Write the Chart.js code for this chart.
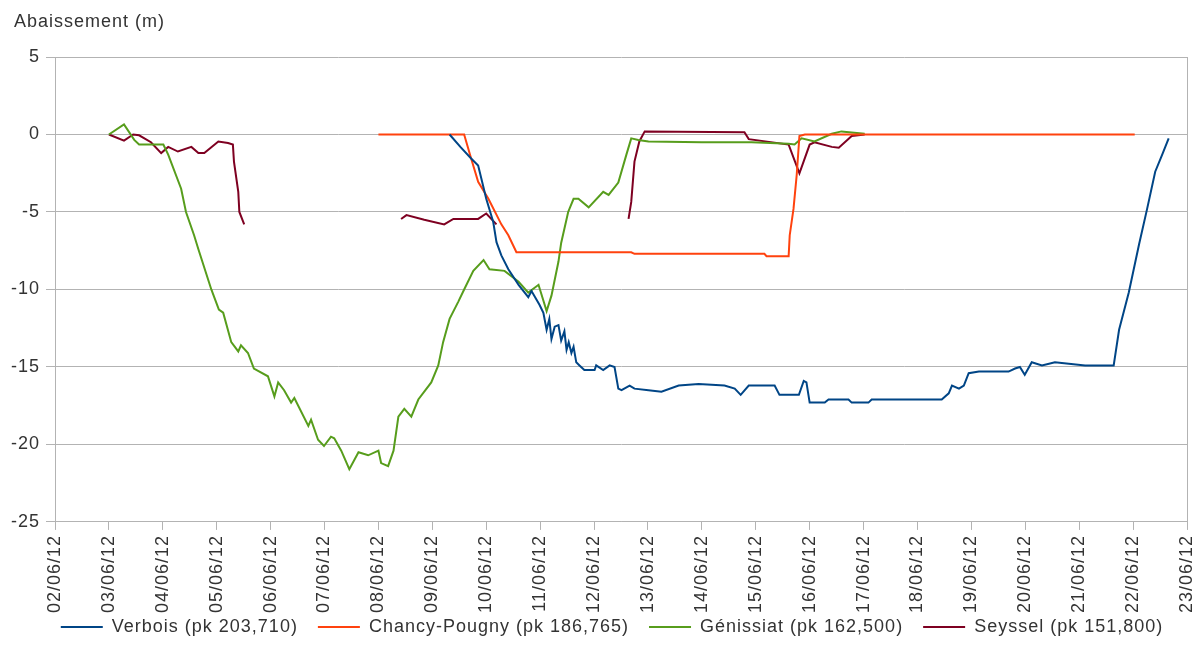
<!DOCTYPE html>
<html>
<head>
<meta charset="utf-8">
<script src="https://cdn.jsdelivr.net/npm/chart.js@4.4.1/dist/chart.umd.min.js"></script>
<style>
html, body { margin: 0; padding: 0; background: #fff; }
</style>
</head>
<body>
<canvas id="myChart" width="1198" height="666"></canvas>
<script>
// x values are days since 02/06/12
const dateLabels = ['02/06/12', '03/06/12', '04/06/12', '05/06/12', '06/06/12', '07/06/12', '08/06/12',
	'09/06/12', '10/06/12', '11/06/12', '12/06/12', '13/06/12', '14/06/12', '15/06/12', '16/06/12',
	'17/06/12', '18/06/12', '19/06/12', '20/06/12', '21/06/12', '22/06/12', '23/06/12']

const yTitle = 'Abaissement (m)'
const seriesNames = ['Verbois (pk 203,710)', 'Chancy-Pougny (pk 186,765)', 'Génissiat (pk 162,500)', 'Seyssel (pk 151,800)']
const seriesColors = ['#004586', '#ff420e', '#579d1c', '#7e0021']

const verboisDays = [7.32, 7.52, 7.72, 7.85, 7.91, 8.0, 8.13, 8.19, 8.28, 8.41, 8.6, 8.78, 8.84, 8.99, 9.06,
	9.12, 9.17, 9.21, 9.27, 9.34, 9.39, 9.45, 9.49, 9.53, 9.58, 9.62, 9.67, 9.73, 9.82, 10.01, 10.04,
	10.17, 10.29, 10.38, 10.45, 10.51, 10.66, 10.75, 11.01, 11.25, 11.57, 11.94, 12.42, 12.61, 12.72,
	12.87, 13.35, 13.44, 13.8, 13.89, 13.94, 14.0, 14.28, 14.35, 14.72, 14.78, 15.09, 15.15, 16.45,
	16.58, 16.64, 16.77, 16.86, 16.95, 17.14, 17.69, 17.81, 17.9, 17.99, 18.12, 18.31, 18.55, 19.11,
	19.64, 19.74, 19.92, 20.11, 20.26, 20.41, 20.54, 20.66]
const verboisLevels = [0, -0.8, -1.55, -2.0, -2.85, -4.15, -5.65, -6.95, -7.8, -8.7, -9.7, -10.5, -10.1, -11.0, -11.5,
	-12.6, -11.9, -13.2, -12.4, -12.3, -13.3, -12.7, -13.9, -13.4, -14.1, -13.7, -14.7, -14.9, -15.2, -15.2, -14.9,
	-15.2, -14.9, -15.0, -16.4, -16.5, -16.2, -16.4, -16.5, -16.6, -16.2, -16.1, -16.2, -16.4, -16.8,
	-16.2, -16.2, -16.8, -16.8, -15.9, -16.0, -17.3, -17.3, -17.1, -17.1, -17.3, -17.3, -17.1, -17.1,
	-16.7, -16.2, -16.4, -16.2, -15.4, -15.3, -15.3, -15.1, -15.0, -15.5, -14.7, -14.9, -14.7, -14.9,
	-14.9, -12.6, -10.2, -7.1, -4.8, -2.4, -1.3, -0.25]

const chancyDays = [6.0, 7.59, 7.72, 7.85, 8.04, 8.28, 8.41, 8.56, 10.69, 10.75, 13.16, 13.2, 13.61, 13.63,
	13.7, 13.76, 13.81, 13.91, 20.03]
const chancyLevels = [0, 0, -1.55, -3.05, -4.15, -5.8, -6.5, -7.6, -7.6, -7.7, -7.7, -7.85, -7.85, -6.5,
	-4.8, -2.6, -0.1, 0, 0]

const genissiatDays = [1.0, 1.28, 1.47, 1.56, 2.01, 2.1, 2.34, 2.43, 2.58, 2.66, 2.9, 3.04, 3.12, 3.27, 3.4,
	3.45, 3.58, 3.69, 3.95, 4.07, 4.14, 4.25, 4.38, 4.44, 4.7, 4.75, 4.88, 4.99, 5.12, 5.18, 5.31, 5.46,
	5.63, 5.81, 6.0, 6.05, 6.18, 6.28, 6.37, 6.48, 6.61, 6.74, 6.98, 7.11, 7.2, 7.32, 7.48, 7.59, 7.76,
	7.95, 8.06, 8.34, 8.6, 8.78, 8.97, 9.12, 9.21, 9.34, 9.39, 9.52, 9.62, 9.71, 9.9, 10.17, 10.27, 10.45,
	10.6, 10.69, 10.82, 11.01, 12.0, 12.92, 13.61, 13.72, 13.85, 14.09, 14.41, 14.59, 15.02]
const genissiatLevels = [0, 0.65, -0.35, -0.65, -0.65, -1.3, -3.5, -5.0, -6.5, -7.4, -10.0, -11.3, -11.5, -13.4, -14.0,
	-13.6, -14.1, -15.1, -15.6, -16.9, -16.0, -16.5, -17.3, -17.0, -18.8, -18.4, -19.7, -20.1, -19.5, -19.6, -20.4, -21.6,
	-20.5, -20.7, -20.4, -21.2, -21.4, -20.4, -18.2, -17.7, -18.2, -17.1, -16.0, -14.9, -13.4, -11.9, -10.8, -10.0, -8.8,
	-8.1, -8.7, -8.8, -9.5, -10.2, -9.7, -11.4, -10.4, -8.2, -7.0, -5.0, -4.15, -4.15, -4.7, -3.7, -3.9, -3.1,
	-1.3, -0.25, -0.35, -0.45, -0.5, -0.5, -0.6, -0.65, -0.25, -0.45, 0.05, 0.2, 0.05]

// null marks the breaks in the Seyssel record
const seysselDays = [1.0, 1.28, 1.45, 1.56, 1.78, 1.97, 2.1, 2.28, 2.53, 2.66, 2.77, 3.03, 3.21, 3.3, 3.32,
	3.4, 3.42, 3.51, 3.6, 6.42, 6.52, 6.85, 7.22, 7.39, 7.85, 8.0, 8.19, 8.3, 10.64, 10.69, 10.75, 10.84,
	10.94, 12.79, 12.87, 13.61, 13.81, 14.0, 14.09, 14.41, 14.54, 14.78, 15.02]
const seysselLevels = [0, -0.4, 0, -0.05, -0.5, -1.2, -0.8, -1.1, -0.8, -1.2, -1.2, -0.45, -0.55, -0.65, -1.75,
	-3.7, -5.0, -5.8, null, -5.45, -5.2, -5.5, -5.8, -5.45, -5.45, -5.1, -5.8, null, -5.45, -4.35, -1.75, -0.45,
	0.2, 0.15, -0.3, -0.65, -2.5, -0.65, -0.5, -0.8, -0.85, -0.1, 0]

const yTicks = { min: -25, max: 5, step: 5 }

const fontFamily = '"Liberation Sans", Arial, sans-serif'
const textColor = '#333'
const gridColor = '#b3b3b3'

function toPoints(days, levels) {
	return days.map((d, i) => ({ x: d, y: levels[i] }))
}

const allDays = [verboisDays, chancyDays, genissiatDays, seysselDays]
const allLevels = [verboisLevels, chancyLevels, genissiatLevels, seysselLevels]

const datasets = seriesNames.map((name, i) => ({
	label: name,
	data: toPoints(allDays[i], allLevels[i]),
	borderColor: seriesColors[i],
	backgroundColor: seriesColors[i],
	borderWidth: 2,
	pointRadius: 0,
	tension: 0,
	spanGaps: false,
}))

// wider letter spacing, like the original export
const spacingPlugin = {
	id: 'spacing',
	beforeLayout(chart) {
		chart.ctx.letterSpacing = '1px'
	},
	beforeDraw(chart) {
		chart.ctx.letterSpacing = '1px'
	},
}

// nudge the legend a little to the right and up
const legendShift = {
	id: 'legendShift',
	afterLayout(chart) {
		const lg = chart.legend
		if (!lg) return
		lg.left += 8
		lg.right += 8
		lg.top -= 20
		lg.bottom -= 20
	},
}

// horizontal axis title in the top-left corner
const yTitlePlugin = {
	id: 'yTitle',
	afterDraw(chart) {
		const ctx = chart.ctx
		ctx.save()
		ctx.letterSpacing = '1px'
		ctx.font = '18px ' + fontFamily
		ctx.fillStyle = textColor
		ctx.textAlign = 'left'
		ctx.textBaseline = 'middle'
		ctx.fillText(yTitle, 14, 22)
		ctx.restore()
	},
}

const chartConfig = {
	type: 'line',
	data: { datasets },
	plugins: [spacingPlugin, legendShift, yTitlePlugin],
	options: {
		responsive: false,
		animation: false,
		layout: { padding: { left: 10, right: 0, top: 57, bottom: 0 } },
		plugins: {
			legend: {
				position: 'bottom',
				labels: {
					usePointStyle: true,
					pointStyle: 'line',
					pointStyleWidth: 42,
					color: textColor,
					font: { family: fontFamily, size: 18 },
					padding: 20,
				},
			},
			tooltip: { enabled: false },
		},
		scales: {
			x: {
				type: 'linear',
				min: 0,
				max: dateLabels.length - 1,
				afterFit(scale) {
					scale.paddingRight = 11
				},
				grid: {
					color: (c) => (c.tick && c.tick.value === dateLabels.length - 1 ? gridColor : 'transparent'),
					tickColor: gridColor,
					tickLength: 8,
				},
				border: { color: gridColor },
				ticks: {
					stepSize: 1,
					autoSkip: false,
					maxRotation: 90,
					minRotation: 90,
					padding: 5,
					color: textColor,
					font: { family: fontFamily, size: 18 },
					callback: (v) => dateLabels[v],
				},
			},
			y: {
				min: yTicks.min,
				max: yTicks.max,
				afterFit(scale) {
					scale.width = 45
				},
				grid: { color: gridColor, tickLength: 9 },
				border: { color: gridColor },
				ticks: {
					stepSize: yTicks.step,
					color: textColor,
					font: { family: fontFamily, size: 18 },
					padding: 6,
				},
			},
		},
	},
}

window.onload = function () {
	const ctx = document.getElementById('myChart').getContext('2d')
	new Chart(ctx, chartConfig)
}
</script>
</body>
</html>
